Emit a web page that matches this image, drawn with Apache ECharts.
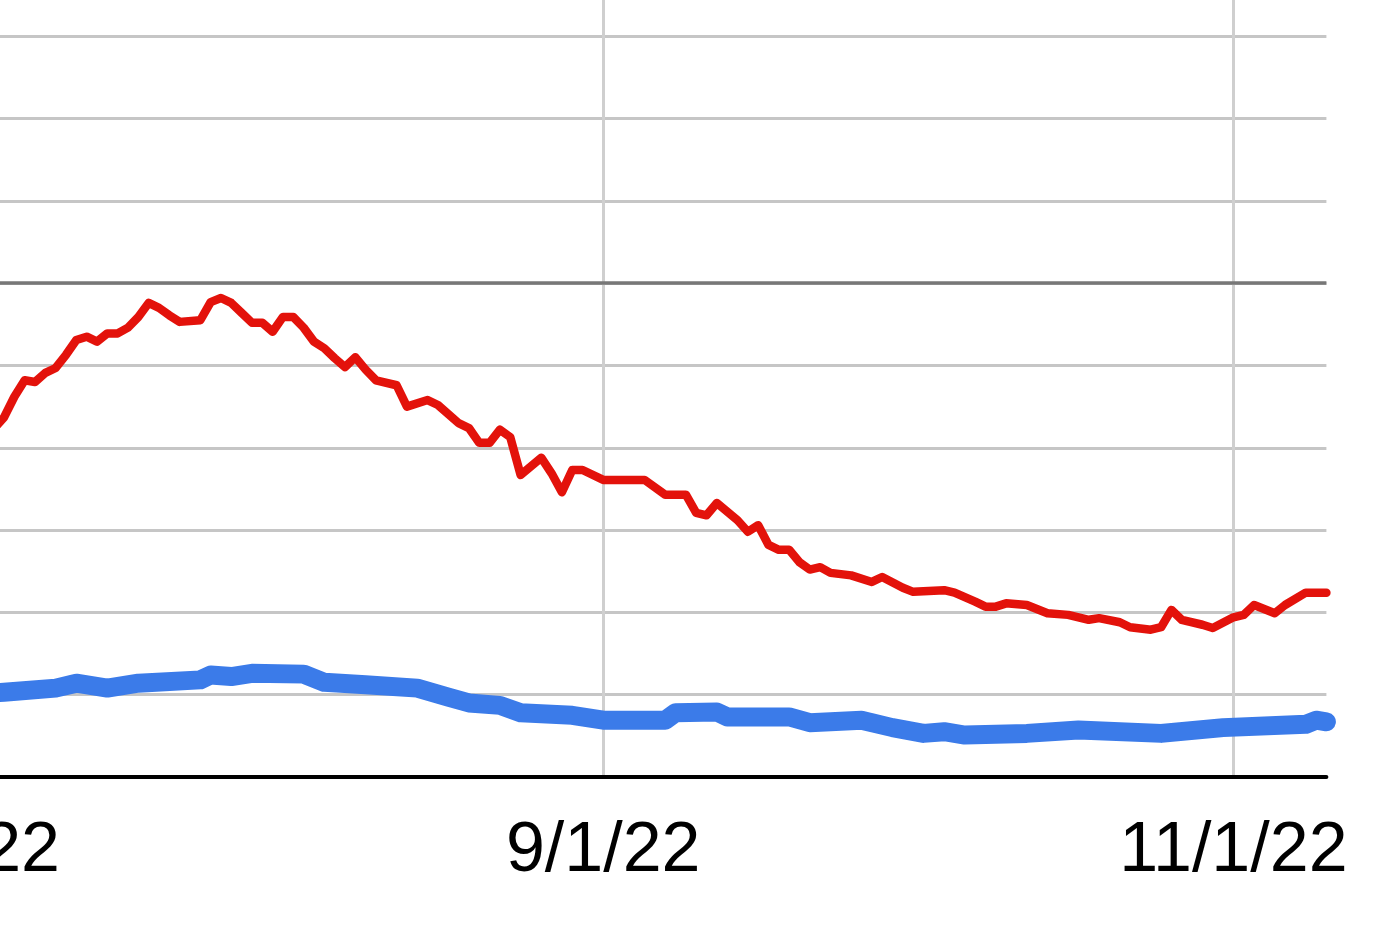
<!DOCTYPE html>
<html><head><meta charset="utf-8">
<script src="https://cdn.jsdelivr.net/npm/echarts@6/dist/echarts.min.js"></script>
<style>html,body{margin:0;padding:0;background:#fff}#c{width:1400px;height:935px}</style>
</head><body><div id="c"></div>
<script>
const redDates = ['7/4/22','7/5/22','7/6/22','7/7/22','7/8/22','7/9/22','7/10/22','7/11/22','7/12/22','7/13/22','7/14/22','7/15/22','7/16/22','7/17/22','7/18/22','7/19/22','7/20/22','7/21/22','7/22/22','7/24/22','7/25/22','7/26/22','7/27/22','7/28/22','7/29/22','7/30/22','7/31/22','8/1/22','8/2/22','8/3/22','8/4/22','8/5/22','8/6/22','8/7/22','8/8/22','8/9/22','8/10/22','8/12/22','8/13/22','8/15/22','8/16/22','8/18/22','8/19/22','8/20/22','8/21/22','8/22/22','8/23/22','8/24/22','8/26/22','8/27/22','8/28/22','8/29/22','8/30/22','9/1/22','9/5/22','9/7/22','9/9/22','9/10/22','9/11/22','9/12/22','9/14/22','9/15/22','9/16/22','9/17/22','9/18/22','9/19/22','9/20/22','9/21/22','9/22/22','9/23/22','9/25/22','9/27/22','9/28/22','9/30/22','10/1/22','10/4/22','10/5/22','10/7/22','10/8/22','10/9/22','10/10/22','10/12/22','10/14/22','10/16/22','10/18/22','10/19/22','10/21/22','10/22/22','10/24/22','10/25/22','10/26/22','10/27/22','10/29/22','10/30/22','11/1/22','11/2/22','11/3/22','11/5/22','11/6/22','11/8/22','11/10/22'];
const redValues = [42.3,43.7,46.2,48.2,48.0,49.1,49.7,51.3,53.1,53.5,52.9,53.9,53.9,54.6,55.9,57.6,57.0,56.1,55.3,55.5,57.7,58.2,57.6,56.4,55.2,55.2,54.1,55.9,55.9,54.6,52.9,52.1,50.9,49.8,51.0,49.5,48.2,47.6,45.0,45.8,45.2,43.0,42.4,40.6,40.6,42.2,41.3,36.7,38.8,36.9,34.6,37.3,37.3,36.1,36.1,34.3,34.3,32.1,31.8,33.3,31.2,29.8,30.6,28.2,27.6,27.6,26.1,25.2,25.5,24.8,24.5,23.7,24.3,23.0,22.5,22.7,22.4,21.3,20.7,20.7,21.1,20.9,19.9,19.7,19.1,19.3,18.8,18.2,17.9,18.2,20.3,19.1,18.5,18.1,19.4,19.7,20.9,19.9,20.9,22.4,22.4];
const blueDates = ['7/4/22','7/5/22','7/10/22','7/12/22','7/15/22','7/18/22','7/24/22','7/25/22','7/27/22','7/29/22','8/3/22','8/5/22','8/9/22','8/14/22','8/17/22','8/19/22','8/22/22','8/24/22','8/29/22','9/1/22','9/7/22','9/8/22','9/12/22','9/13/22','9/19/22','9/21/22','9/26/22','9/29/22','10/2/22','10/4/22','10/6/22','10/12/22','10/17/22','10/25/22','10/31/22','11/8/22','11/9/22','11/10/22'];
const blueValues = [10.2,10.3,10.8,11.4,10.8,11.4,11.8,12.4,12.2,12.6,12.5,11.5,11.2,10.8,9.7,9.0,8.7,7.8,7.5,6.9,6.9,7.8,7.9,7.3,7.3,6.6,6.9,6.0,5.3,5.5,5.1,5.3,5.7,5.3,6.0,6.4,6.9,6.7];
const tickLabels = ['7/1/22','9/1/22','11/1/22'];
const axisStart = '7/1/22';
const axisEnd = '11/10/22';
const referenceLevel = 60;

function toTime(s){const p=s.split('/').map(Number);return Date.UTC(2000+p[2],p[0]-1,p[1]);}
function fmt(v){const d=new Date(v);return (d.getUTCMonth()+1)+'/'+d.getUTCDate()+'/'+String(d.getUTCFullYear()).slice(2);}
const pair=(ds,vs)=>ds.map((d,i)=>[toTime(d),vs[i]]);
const tickTimes = tickLabels.map(toTime);

const chart = echarts.init(document.getElementById('c'));
chart.setOption({
  animation:false,
  backgroundColor:'#fff',
  grid:{left:-37.3,right:73.6,top:-46,bottom:158,outerBoundsMode:'none',containLabel:false},
  xAxis:{
    type:'value', min:toTime(axisStart), max:toTime(axisEnd),
    axisLine:{show:true,lineStyle:{color:'#000',width:4}},
    axisTick:{show:false,customValues:tickTimes},
    axisLabel:{customValues:tickTimes,formatter:fmt,fontSize:70,color:'#000',fontFamily:'Liberation Sans, Arial, sans-serif',margin:40},
    splitLine:{show:true,lineStyle:{color:'#cfcfcf',width:3}}
  },
  yAxis:{
    type:'value', min:0, max:100, interval:10,
    axisLine:{show:false}, axisTick:{show:false}, axisLabel:{show:false},
    splitLine:{show:true,lineStyle:{color:'#c6c6c6',width:3}}
  },
  series:[
    {type:'line',data:pair(blueDates,blueValues),showSymbol:false,z:3,
     lineStyle:{color:'#3b7be9',width:19,cap:'round',join:'round'},
     markLine:{silent:true,symbol:'none',label:{show:false},
       lineStyle:{color:'#777',width:3.5,type:'solid'},data:[{yAxis:referenceLevel}]}},
    {type:'line',data:pair(redDates,redValues),showSymbol:false,z:4,
     lineStyle:{color:'#e3120b',width:8.5,cap:'round',join:'round'}}
  ]
});
</script></body></html>
